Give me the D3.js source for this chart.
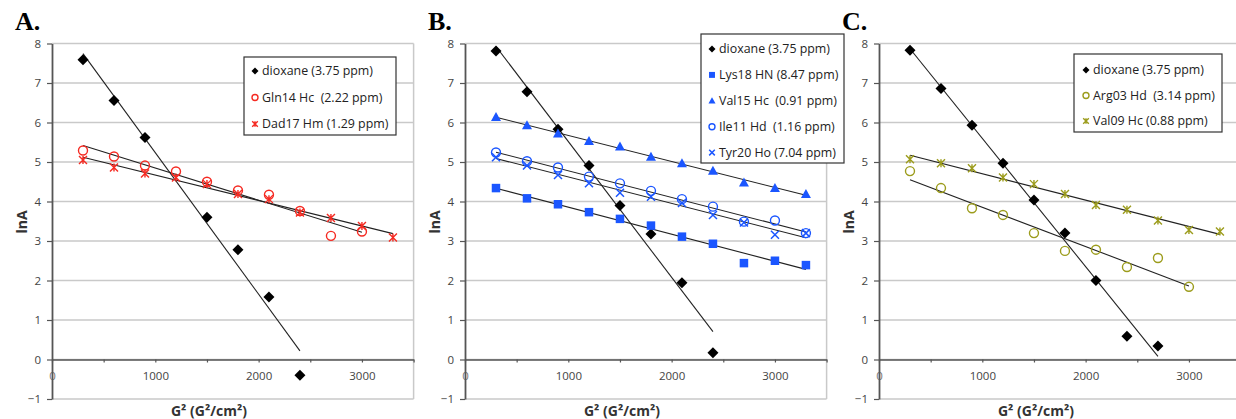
<!DOCTYPE html>
<html>
<head>
<meta charset="utf-8">
<script src="https://cdn.jsdelivr.net/npm/d3@7"></script>
<style>
  html, body { margin: 0; padding: 0; background: #fff; }
  svg { display: block; }
  text { white-space: pre; }
</style>
</head>
<body>
<svg id="chart" width="1236" height="419"></svg>
<script>
// Gradient strengths (G², G²/cm²) at which each spectrum was recorded
const gradA = [300, 600, 900, 1500, 1800, 2100, 2400];
const gradB = [300, 600, 900, 1200, 1500, 1800, 2100, 2400];
const gradC = [300, 600, 900, 1200, 1500, 1800, 2100, 2400, 2700];
const grad10 = [300, 600, 900, 1200, 1500, 1800, 2100, 2400, 2700, 3000];
const grad11 = [300, 600, 900, 1200, 1500, 1800, 2100, 2400, 2700, 3000, 3300];

// ln(peak intensity) for each resonance
const dioxaneA = [7.59, 6.56, 5.62, 3.60, 2.78, 1.58, -0.40];
const gln14Hc = [5.29, 5.14, 4.91, 4.76, 4.50, 4.28, 4.17, 3.76, 3.13, 3.24];
const dad17Hm = [5.05, 4.86, 4.71, 4.61, 4.44, 4.19, 4.06, 3.72, 3.58, 3.38, 3.09];

const dioxaneB = [7.81, 6.78, 5.83, 4.91, 3.90, 3.18, 1.94, 0.17];
const lys18HN = [4.34, 4.08, 3.93, 3.73, 3.56, 3.39, 3.11, 2.93, 2.44, 2.50, 2.39];
const val15Hc = [6.14, 5.93, 5.72, 5.53, 5.39, 5.13, 4.97, 4.78, 4.48, 4.34, 4.19];
const ile11Hd = [5.24, 5.02, 4.86, 4.63, 4.46, 4.27, 4.06, 3.87, 3.49, 3.52, 3.20];
const tyr20Ho = [5.12, 4.91, 4.67, 4.46, 4.22, 4.12, 3.96, 3.66, 3.47, 3.16, 3.20];

const dioxaneC = [7.83, 6.86, 5.93, 4.97, 4.04, 3.20, 2.00, 0.59, 0.34];
const arg03Hd = [4.77, 4.34, 3.83, 3.66, 3.20, 2.75, 2.78, 2.34, 2.57, 1.84];
const val09Hc = [5.07, 4.97, 4.84, 4.61, 4.44, 4.19, 3.91, 3.79, 3.52, 3.28, 3.24];

// Axis ticks
const yTicks = [-1, 0, 1, 2, 3, 4, 5, 6, 7, 8];
const xTicks = [0, 500, 1000, 1500, 2000, 2500, 3000, 3500];
const xLabelled = [0, 1000, 2000, 3000];

const panelLabels = ["A.", "B.", "C."];
const legendA = ["dioxane (3.75 ppm)", "Gln14 Hc  (2.22 ppm)", "Dad17 Hm (1.29 ppm)"];
const legendB = ["dioxane (3.75 ppm)", "Lys18 HN (8.47 ppm)", "Val15 Hc  (0.91 ppm)", "Ile11 Hd  (1.16 ppm)", "Tyr20 Ho (7.04 ppm)"];
const legendC = ["dioxane (3.75 ppm)", "Arg03 Hd  (3.14 ppm)", "Val09 Hc (0.88 ppm)"];

const RED = "#f52a22", BLUE = "#1b56ff", OLIVE = "#9c9c1c", BLACK = "#000";

const panels = [
  {
    left: 52, label: panelLabels[0],
    legendBox: { x: 244, y: 57, w: 152, h: 78, rowY: 14, rowStep: 26.5, mx: 11, tx: 18 },
    series: [
      { name: legendA[0], xs: gradA, ys: dioxaneA, shape: "diamond", color: BLACK },
      { name: legendA[1], xs: grad10, ys: gln14Hc, shape: "circle", color: RED },
      { name: legendA[2], xs: grad11, ys: dad17Hm, shape: "star", color: RED }
    ]
  },
  {
    left: 465, label: panelLabels[1],
    legendBox: { x: 701, y: 34, w: 143, h: 129, rowY: 15, rowStep: 25.9, mx: 11, tx: 18 },
    series: [
      { name: legendB[0], xs: gradB, ys: dioxaneB, shape: "diamond", color: BLACK },
      { name: legendB[1], xs: grad11, ys: lys18HN, shape: "square", color: BLUE },
      { name: legendB[2], xs: grad11, ys: val15Hc, shape: "triangle", color: BLUE },
      { name: legendB[3], xs: grad11, ys: ile11Hd, shape: "circle", color: BLUE },
      { name: legendB[4], xs: grad11, ys: tyr20Ho, shape: "cross", color: BLUE }
    ]
  },
  {
    left: 879, label: panelLabels[2],
    legendBox: { x: 1074, y: 54, w: 148, h: 78, rowY: 16, rowStep: 25.5, mx: 12, tx: 19 },
    series: [
      { name: legendC[0], xs: gradC, ys: dioxaneC, shape: "diamond", color: BLACK },
      { name: legendC[1], xs: grad10, ys: arg03Hd, shape: "circle", color: OLIVE },
      { name: legendC[2], xs: grad11, ys: val09Hc, shape: "star", color: OLIVE }
    ]
  }
];

const svg = d3.select("#chart");
const PLOT_W = 361.6, TOP = 43.5, BOTTOM = 399;
const FONT = "'Open Sans', sans-serif";

// Least-squares line through a series
function fit(xs, ys) {
  const mx = d3.mean(xs), my = d3.mean(ys);
  let sxy = 0, sxx = 0;
  xs.forEach((x, i) => { sxy += (x - mx) * (ys[i] - my); sxx += (x - mx) * (x - mx); });
  const slope = sxy / sxx;
  return x => my + slope * (x - mx);
}

function drawMarker(g, shape, cx, cy, s, color) {
  const h = s / 2;
  switch (shape) {
    case "diamond":
      g.append("path").attr("d", `M${cx},${cy - h}L${cx + h},${cy}L${cx},${cy + h}L${cx - h},${cy}Z`).attr("fill", color);
      break;
    case "square":
      g.append("rect").attr("x", cx - h * 0.85).attr("y", cy - h * 0.85).attr("width", s * 0.85).attr("height", s * 0.85).attr("fill", color);
      break;
    case "triangle":
      g.append("path").attr("d", `M${cx},${cy - h}L${cx + h},${cy + h * 0.8}L${cx - h},${cy + h * 0.8}Z`).attr("fill", color);
      break;
    case "circle":
      g.append("circle").attr("cx", cx).attr("cy", cy).attr("r", h - 0.5).attr("fill", "none").attr("stroke", color).attr("stroke-width", 1.4);
      break;
    case "cross": {
      const c = h * 0.8;
      g.append("path").attr("d", `M${cx - c},${cy - c}L${cx + c},${cy + c}M${cx + c},${cy - c}L${cx - c},${cy + c}`).attr("stroke", color).attr("stroke-width", 1.5).attr("fill", "none");
      break;
    }
    case "star": {
      const c = h * 0.8;
      g.append("path").attr("d", `M${cx - c},${cy - c}L${cx + c},${cy + c}M${cx + c},${cy - c}L${cx - c},${cy + c}M${cx},${cy - c}L${cx},${cy + c}`).attr("stroke", color).attr("stroke-width", 1.4).attr("fill", "none");
      break;
    }
  }
}

panels.forEach(p => {
  const g = svg.append("g");
  const x = d3.scaleLinear().domain([0, 3500]).range([p.left, p.left + PLOT_W]);
  const y = d3.scaleLinear().domain([-1, 8]).range([BOTTOM, TOP]);

  // horizontal gridlines
  g.append("g").selectAll("line").data(yTicks).join("line")
    .attr("x1", x(0)).attr("x2", x(3500))
    .attr("y1", d => y(d)).attr("y2", d => y(d))
    .attr("stroke", "#c9c9c9").attr("stroke-width", 1.5);
  // right edge of plot area
  g.append("line").attr("x1", x(3500)).attr("x2", x(3500)).attr("y1", y(8)).attr("y2", y(-1))
    .attr("stroke", "#c9c9c9").attr("stroke-width", 1.5);

  // x axis through lnA = 0
  const xAxis = d3.axisBottom(x).tickValues(xTicks)
    .tickFormat(d => xLabelled.includes(d) ? String(d) : "")
    .tickSizeInner(3).tickSizeOuter(0).tickPadding(9);
  const gx = g.append("g").attr("transform", `translate(0,${y(0)})`).call(xAxis);
  gx.select(".domain").attr("stroke", "#555").attr("stroke-width", 1.5);
  gx.selectAll(".tick line").attr("stroke", "#555").attr("stroke-width", 1.2);
  gx.selectAll(".tick text").attr("fill", "#444").style("font-family", FONT).style("font-size", "11.5px");
  gx.selectAll(".tick").filter(d => d === 0).select("text").attr("fill", "#777");

  // y axis
  const yAxis = d3.axisLeft(y).tickValues(yTicks).tickFormat(d3.format("d"))
    .tickSizeInner(5).tickSizeOuter(0).tickPadding(6);
  const gy = g.append("g").attr("transform", `translate(${x(0)},0)`).call(yAxis);
  gy.select(".domain").attr("stroke", "#555").attr("stroke-width", 1.8);
  gy.selectAll(".tick line").attr("stroke", "#555").attr("stroke-width", 1.2);
  gy.selectAll(".tick text").attr("fill", "#444").style("font-family", FONT).style("font-size", "11.5px");

  // axis titles
  g.append("text").attr("transform", `translate(${p.left - 30},${222}) rotate(-90)`)
    .attr("text-anchor", "middle").attr("dy", "0.35em")
    .style("font-family", FONT).style("font-size", "14px").style("font-weight", "bold")
    .attr("fill", "#333").text("lnA");
  g.append("text").attr("x", p.left + 157).attr("y", 416).attr("text-anchor", "middle")
    .style("font-family", FONT).style("font-size", "14px").style("font-weight", "bold")
    .attr("fill", "#333").text("G² (G²/cm²)");

  // panel letter
  g.append("text").attr("x", p.left - 37).attr("y", 30)
    .style("font-family", "'Liberation Serif', 'Times New Roman', serif").style("font-size", "26px").style("font-weight", "bold")
    .attr("fill", "#000").text(p.label);

  // trendlines
  p.series.forEach(s => {
    const f = fit(s.xs, s.ys);
    const x0 = d3.min(s.xs), x1 = d3.max(s.xs);
    g.append("line").attr("x1", x(x0)).attr("y1", y(f(x0))).attr("x2", x(x1)).attr("y2", y(f(x1)))
      .attr("stroke", "#222").attr("stroke-width", 1.1);
  });

  // data markers
  p.series.forEach(s => {
    const size = s.shape === "diamond" ? 11 : 10;
    s.xs.forEach((xv, i) => drawMarker(g, s.shape, x(xv), y(s.ys[i]), size, s.color));
  });

  // legend
  const L = p.legendBox;
  const lg = g.append("g").attr("transform", `translate(${L.x},${L.y})`);
  lg.append("rect").attr("width", L.w).attr("height", L.h).attr("fill", "#fff")
    .attr("stroke", "#333").attr("stroke-width", 1.2);
  p.series.forEach((s, i) => {
    const cy = L.rowY + i * L.rowStep;
    drawMarker(lg, s.shape, L.mx, cy, 7, s.color);
    lg.append("text").attr("x", L.tx).attr("y", cy).attr("dy", "0.35em")
      .style("font-family", FONT).style("font-size", "12.4px")
      .attr("fill", "#222").text(s.name);
  });
});
</script>
</body>
</html>
